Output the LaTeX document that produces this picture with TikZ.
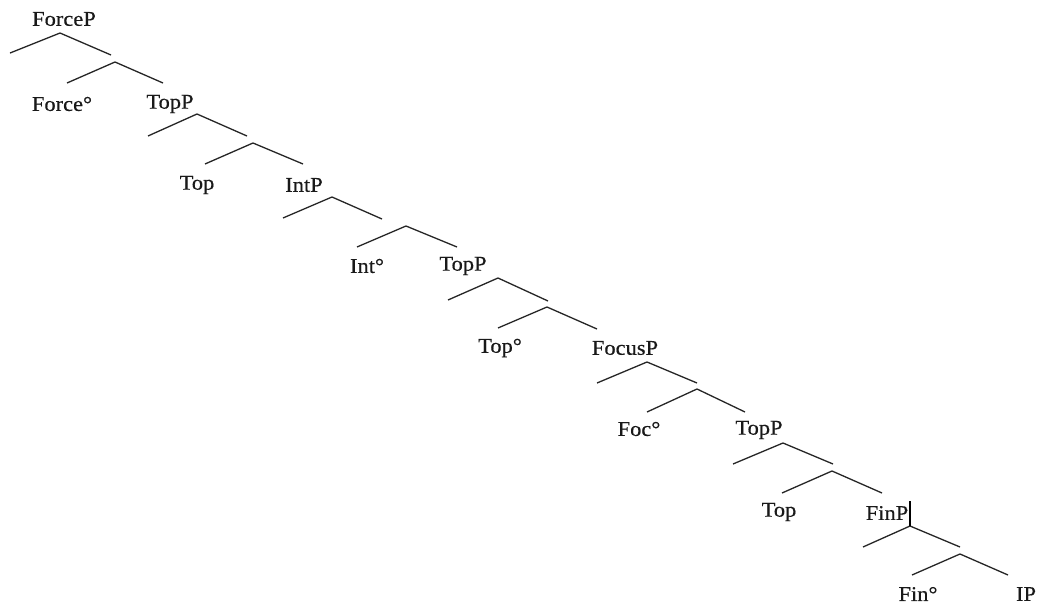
\documentclass[tikz,border=0pt]{standalone}
\usepackage{fontspec}
\setmainfont{Liberation Serif}
\begin{document}
\begin{tikzpicture}[x=1pt,y=-1pt,
  branch/.style={line width=1.3pt,black!85},
  cursorbar/.style={line width=2.4pt,black},
  lbl/.style={inner sep=0pt,text=black!90,
    font=\fontsize{21}{24}\selectfont\addfontfeature{FakeStretch=1.07,FakeBold=0.4}}]
\useasboundingbox (0,0) rectangle (1037,605);
\fill[white] (0,0) rectangle (1037,605);

% ---- labels ----
\node[lbl] (forcep) at (64,19)  {ForceP};
\node[lbl] (force)  at (62,104) {Force°};
\node[lbl] (topp1)  at (170,104){TopP};
\node[lbl] (top1)   at (197,185){Top};
\node[lbl] (intp)   at (304,185){IntP};
\node[lbl] (int)    at (367,266){Int°};
\node[lbl] (topp2)  at (463,266){TopP};
\node[lbl] (top2)   at (500,348){Top°};
\node[lbl] (focusp) at (625,348){FocusP};
\node[lbl] (foc)    at (639,429){Foc°};
\node[lbl] (topp3)  at (759,430){TopP};
\node[lbl] (top3)   at (779,512){Top};
\node[lbl] (finp)   at (887,513){FinP};
\node[lbl] (fin)    at (918,594){Fin°};
\node[lbl] (ip)     at (1026,594){IP};

% ---- branching points: apex, specifier end, bar level, head and complement ends ----
\coordinate (a1) at (60,33);   \coordinate (s1) at (10,53);
\coordinate (r1) at (111,55);  \coordinate (b1) at (115,62);
\coordinate (h1) at (67,83);   \coordinate (c1) at (163,83);

\coordinate (a2) at (197,114); \coordinate (s2) at (148,136);
\coordinate (r2) at (247,136); \coordinate (b2) at (253,143);
\coordinate (h2) at (205,164); \coordinate (c2) at (303,164);

\coordinate (a3) at (332,197); \coordinate (s3) at (283,218);
\coordinate (r3) at (382,219); \coordinate (b3) at (406,226);
\coordinate (h3) at (357,247); \coordinate (c3) at (457,247);

\coordinate (a4) at (498,278); \coordinate (s4) at (448,300);
\coordinate (r4) at (548,301); \coordinate (b4) at (547,307);
\coordinate (h4) at (498,328); \coordinate (c4) at (597,329);

\coordinate (a5) at (647,362); \coordinate (s5) at (597,383);
\coordinate (r5) at (697,383); \coordinate (b5) at (697,389);
\coordinate (h5) at (647,412); \coordinate (c5) at (745,412);

\coordinate (a6) at (783,443); \coordinate (s6) at (733,464);
\coordinate (r6) at (833,464); \coordinate (b6) at (832,471);
\coordinate (h6) at (782,493); \coordinate (c6) at (882,493);

\coordinate (a7) at (910,526); \coordinate (s7) at (863,547);
\coordinate (r7) at (960,547); \coordinate (b7) at (960,554);
\coordinate (h7) at (912,575); \coordinate (c7) at (1008,575);

% ---- branches ----
\foreach \i in {1,...,7}{
  \draw[branch] (s\i) -- (a\i) -- (r\i);
  \draw[branch] (h\i) -- (b\i) -- (c\i);
}

% ---- vertical stroke after FinP ----
\coordinate (bartop) at (910,501);
\draw[cursorbar] (bartop) -- (a7);
\end{tikzpicture}
\end{document}
